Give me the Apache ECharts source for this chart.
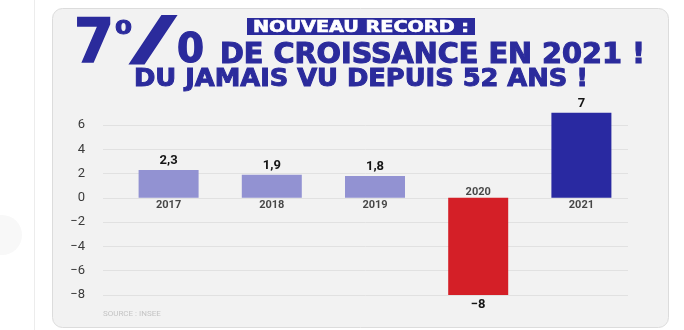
<!DOCTYPE html>
<html><head><meta charset="utf-8">
<script src="https://cdn.jsdelivr.net/npm/echarts@6/dist/echarts.min.js"></script>
<style>html,body{margin:0;padding:0;background:#fff}#c{width:684px;height:330px}</style>
</head><body><div id="c"></div>
<script>
// ---- data ----
const categories = ['2017', '2018', '2019', '2020', '2021'];
const growth = [2.3, 1.9, 1.8, -8, 7];
const yMin = -8, yMax = 6, yInterval = 2;
const barColors = ['#9292d2', '#9292d2', '#9292d2', '#d41f27', '#2929a1'];
const headline = 'DE CROISSANCE EN 2021 !';
const subline = 'DU JAMAIS VU DEPUIS 52 ANS !';
const badge = 'NOUVEAU RECORD :';
const sourceText = 'SOURCE : INSEE';

const NAVY = '#2b2b9c';
const TF = '"DejaVu Sans Condensed","Liberation Sans Narrow","DejaVu Sans",sans-serif';
const mctx = document.createElement('canvas').getContext('2d');
function fit(text, size, x, yc, targetW, fill, sw) {
  const font = 'bold ' + size + 'px ' + TF;
  mctx.font = font;
  const w = mctx.measureText(text).width;
  const st = {text: text, font: font, fill: fill, textAlign: 'left', textVerticalAlign: 'middle'};
  if (sw) { st.stroke = fill; st.lineWidth = sw; }
  return {type: 'text', x: x, y: yc, scaleX: targetW / w, z: 20, style: st};
}

const chart = echarts.init(document.getElementById('c'), null, {renderer: 'canvas'});
const gridTop = 125, gridBottom = 35;
const fmtNum = v => String(v).replace('.', ',').replace('-', '−');

chart.setOption({
  backgroundColor: '#ffffff',
  animation: false,
  grid: [
    {left: 103, right: 56, top: gridTop, bottom: gridBottom},
    {left: 117, right: 51, top: gridTop, bottom: gridBottom}
  ],
  xAxis: [
    {gridIndex: 0, type: 'category', data: categories, show: false},
    {gridIndex: 1, type: 'category', data: categories, axisLine: {show: false}, axisTick: {show: false}, axisLabel: {show: false}}
  ],
  yAxis: [
    {gridIndex: 0, type: 'value', min: yMin, max: yMax, interval: yInterval,
      axisLine: {show: false}, axisTick: {show: false},
      axisLabel: {margin: 18, color: '#3a3a3a', fontSize: 13, fontFamily: 'Roboto', formatter: v => String(v).replace('-', '−')},
      splitLine: {lineStyle: {color: '#e1e1e1', width: 1}}},
    {gridIndex: 1, type: 'value', min: yMin, max: yMax, interval: yInterval, show: false, splitLine: {show: false}}
  ],
  series: [
    {type: 'bar', xAxisIndex: 1, yAxisIndex: 1, barWidth: 60, clip: false,
      data: growth.map((v, i) => ({value: v, itemStyle: {color: barColors[i]},
        label: {position: v >= 0 ? 'top' : 'bottom'}})),
      label: {show: true, distance: 3, color: '#151515', fontSize: 13, fontWeight: 'bold', fontFamily: 'Roboto',
        formatter: p => fmtNum(p.value)}},
    {type: 'scatter', xAxisIndex: 1, yAxisIndex: 1, symbolSize: 0, silent: true, z: 5,
      data: growth.map((v, i) => ({value: [categories[i], 0],
        label: {position: v >= 0 ? 'bottom' : 'top', distance: v >= 0 ? 2 : 0}})),
      label: {show: true, color: '#1a1a1a', fontSize: 11, fontWeight: 'bold', fontFamily: 'Roboto',
        formatter: p => categories[p.dataIndex]}}
  ],
  graphic: [
    {type: 'line', shape: {x1: 34.5, y1: 0, x2: 34.5, y2: 330}, style: {stroke: '#ececec', lineWidth: 1}, z: 0},
    {type: 'circle', shape: {cx: 2, cy: 235, r: 20}, style: {fill: '#f8f8f8'}, z: 0},
    {type: 'rect', shape: {x: 52.5, y: 8.5, width: 616, height: 319, r: 10},
      style: {fill: '#f2f2f2', stroke: '#dcdcdc', lineWidth: 1}, z: -10},
    {type: 'rect', shape: {x: 247, y: 18, width: 228, height: 17}, style: {fill: NAVY}, z: 15},
    fit(badge, 16, 253, 28, 216, '#ffffff', 0.6),
    fit('7', 61, 74, 46, 40, NAVY, 1.5),
    fit('0', 19, 115, 29, 17, NAVY, 0.8),
    fit('/', 58, 130, 44, 46, NAVY, 1),
    fit('0', 41, 177, 51, 27, NAVY, 1.2),
    fit(headline, 28, 220, 55.5, 425, NAVY, 1),
    fit(subline, 24, 134, 79.5, 454, NAVY, 0.9),
    {type: 'text', x: 103, y: 314, z: 20,
      style: {text: sourceText, font: '8px Roboto', fill: '#c4c4c4', textVerticalAlign: 'middle'}}
  ]
});
</script></body></html>
